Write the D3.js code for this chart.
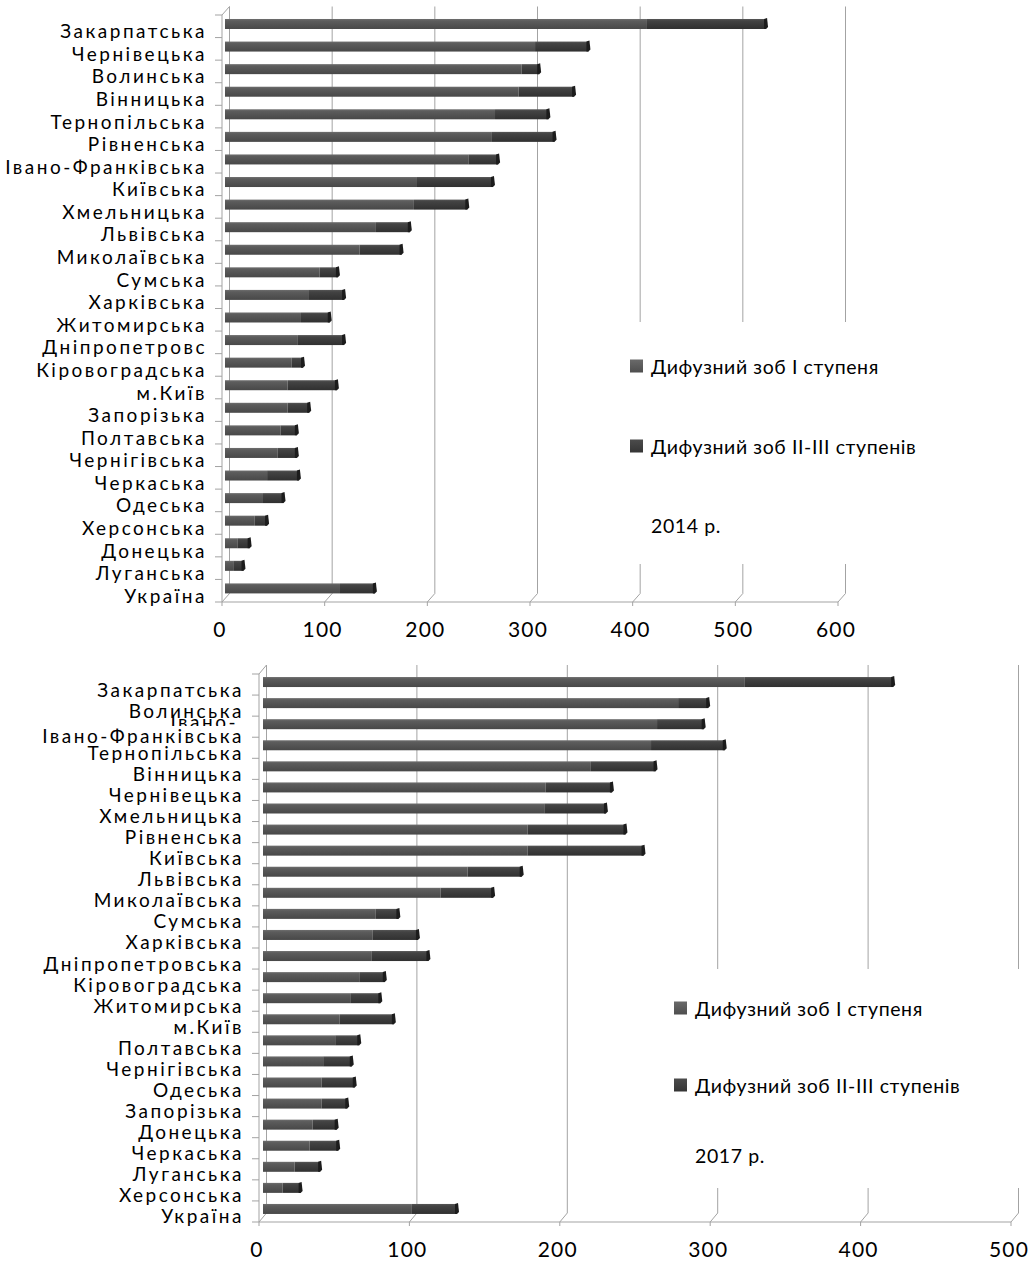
<!DOCTYPE html>
<html>
<head>
<meta charset="utf-8">
<script src="https://cdn.jsdelivr.net/npm/d3@7"></script>
<style>
  body { margin: 0; background: #fff; }
  text { font-family: Lato, "Open Sans", sans-serif; fill: #000; }
</style>
</head>
<body>
<svg id="chart" width="1035" height="1265"></svg>
<script>
// 2014 data
const regions2014 = ["Закарпатська", "Чернівецька", "Волинська", "Вінницька", "Тернопільська", "Рівненська",
  "Івано-Франківська", "Київська", "Хмельницька", "Львівська", "Миколаївська", "Сумська", "Харківська",
  "Житомирська", "Дніпропетровс", "Кіровоградська", "м.Київ", "Запорізька", "Полтавська", "Чернігівська",
  "Черкаська", "Одеська", "Херсонська", "Донецька", "Луганська", "Україна"];
const grade1_2014 = [411, 302, 289, 286, 263, 260, 237, 187, 184, 147, 131, 92, 81, 74, 71, 65, 61, 61, 54, 51, 41, 37, 29, 12, 8, 112];
const grade23_2014 = [116, 52, 17, 54, 52, 61, 29, 74, 52, 33, 41, 18, 35, 28, 45, 11, 48, 21, 16, 19, 31, 20, 12, 12, 10, 34];
const ticks2014 = [0, 100, 200, 300, 400, 500, 600];

// 2017 data
const regions2017 = ["Закарпатська", "Волинська", "Івано-Франківська", "Тернопільська", "Вінницька", "Чернівецька",
  "Хмельницька", "Рівненська", "Київська", "Львівська", "Миколаївська", "Сумська", "Харківська",
  "Дніпропетровська", "Кіровоградська", "Житомирська", "м.Київ", "Полтавська", "Чернігівська", "Одеська",
  "Запорізька", "Донецька", "Черкаська", "Луганська", "Херсонська", "Україна"];
const grade1_2017 = [320, 276, 262, 258, 218, 188, 187, 176, 176, 136, 118, 75, 73, 72, 64, 58, 51, 48, 40, 39, 39, 33, 31, 21, 13, 99];
const grade23_2017 = [99, 20, 31, 49, 43, 44, 41, 65, 77, 36, 35, 15, 30, 38, 17, 20, 36, 16, 19, 22, 17, 16, 19, 17, 12, 30];
const ticks2017 = [0, 100, 200, 300, 400, 500];

const seriesNames = ["Дифузний зоб I ступеня", "Дифузний зоб II-III ступенів"];

const svg = d3.select("#chart");

// gradients for the 3D-looking bars
const defs = svg.append("defs");
function addGradient(id, stops) {
  const lg = defs.append("linearGradient").attr("id", id)
    .attr("x1", 0).attr("y1", 0).attr("x2", 0).attr("y2", 1);
  stops.forEach(s => lg.append("stop").attr("offset", s[0]).attr("stop-color", s[1]));
}
addGradient("g1", [[0, "#6e6e6e"], [0.2, "#5c5c5c"], [1, "#484848"]]);
addGradient("g2", [[0, "#565656"], [0.2, "#434343"], [1, "#303030"]]);
addGradient("leg1", [[0, "#6a6a6a"], [1, "#4e4e4e"]]);
addGradient("leg2", [[0, "#4c4c4c"], [1, "#353535"]]);

const labelFont = { size: "19px", spacing: "2.5px" };

function drawChart(cfg) {
  const g = svg.append("g");
  const x = d3.scaleLinear().domain([0, cfg.max]).range([cfg.x0, cfg.x1]);
  const y = d3.scaleBand().domain(cfg.names).range([cfg.yTop, cfg.yBottom]);
  const dx = cfg.dx, dy = cfg.dy;
  const gridColor = "#a3a3a3";

  // back wall grid lines
  g.append("g").selectAll("line").data(cfg.ticks).join("line")
    .attr("x1", d => x(d) + dx).attr("x2", d => x(d) + dx)
    .attr("y1", cfg.yTop + dy).attr("y2", cfg.yBottom + dy)
    .attr("stroke", gridColor).attr("stroke-width", 1);

  // floor connectors and ticks under the axis
  g.append("g").selectAll("line").data(cfg.ticks).join("line")
    .attr("x1", d => x(d)).attr("y1", cfg.yBottom + 4)
    .attr("x2", d => x(d)).attr("y2", cfg.yBottom)
    .attr("stroke", gridColor);
  g.append("g").selectAll("path").data(cfg.ticks).join("path")
    .attr("d", d => `M${x(d)},${cfg.yBottom}L${x(d) + dx},${cfg.yBottom + dy}`)
    .attr("stroke", gridColor).attr("fill", "none");

  // wall top-left connector
  g.append("path")
    .attr("d", `M${x(0)},${cfg.yTop}L${x(0) + dx},${cfg.yTop + dy}`)
    .attr("stroke", gridColor).attr("fill", "none");

  // legend background hides the grid behind it
  g.append("rect")
    .attr("x", cfg.legend.boxX).attr("y", cfg.legend.boxY)
    .attr("width", cfg.legend.boxW).attr("height", cfg.legend.boxH)
    .attr("fill", "#fff");

  // axes
  g.append("line").attr("x1", x(0)).attr("x2", x(0))
    .attr("y1", cfg.yTop).attr("y2", cfg.yBottom).attr("stroke", gridColor);
  g.append("line").attr("x1", x(0)).attr("x2", x(cfg.max))
    .attr("y1", cfg.yBottom).attr("y2", cfg.yBottom).attr("stroke", gridColor);

  const bounds = cfg.names.map(n => y(n)).concat([cfg.yBottom]);
  g.append("g").selectAll("line").data(bounds).join("line")
    .attr("x1", x(0) - 7).attr("x2", x(0))
    .attr("y1", d => d).attr("y2", d => d)
    .attr("stroke", gridColor);

  // x tick labels
  g.append("g").selectAll("text").data(cfg.ticks).join("text")
    .attr("x", d => x(d) - 2).attr("y", cfg.yBottom + 35)
    .attr("text-anchor", "middle")
    .style("font-size", "21px").style("letter-spacing", "1.2px")
    .text(d => d);

  // bars
  const bx = v => x(v) + cfg.barDx;
  const rows = cfg.names.map((n, i) => ({ name: n, a: cfg.s1[i], b: cfg.s2[i] }));
  const bar = g.append("g").selectAll("g").data(rows).join("g")
    .attr("transform", d => `translate(0,${y(d.name) + y.bandwidth() / 2 + cfg.barDy - cfg.barH / 2})`);
  bar.append("rect")
    .attr("x", bx(0)).attr("width", d => bx(d.a) - bx(0))
    .attr("height", cfg.barH).attr("fill", "url(#g1)");
  bar.append("rect")
    .attr("x", d => bx(d.a)).attr("width", d => bx(d.a + d.b) - bx(d.a))
    .attr("height", cfg.barH).attr("fill", "url(#g2)");
  bar.append("path")
    .attr("d", d => {
      const e = bx(d.a + d.b);
      return `M${e - 2},0L${e + 1},-1L${e + 2},${cfg.barH - 2}L${e},${cfg.barH}L${e - 2},${cfg.barH}Z`;
    })
    .attr("fill", "#1c1c1c");

  // category labels
  g.append("g").selectAll("text").data(cfg.names).join("text")
    .attr("x", cfg.labelX)
    .attr("y", d => y(d) + y.bandwidth() / 2 + cfg.labelDy)
    .attr("text-anchor", "end").attr("dominant-baseline", "central")
    .style("font-size", labelFont.size).style("letter-spacing", labelFont.spacing)
    .text(d => cfg.labelOverride && cfg.labelOverride[d] !== undefined ? cfg.labelOverride[d] : d);

  // legend
  const L = cfg.legend;
  const leg = g.append("g");
  seriesNames.forEach((s, i) => {
    leg.append("rect").attr("x", L.x).attr("y", L.ys[i] - 6.5)
      .attr("width", 13).attr("height", 13).attr("fill", `url(#leg${i + 1})`);
    leg.append("text").attr("x", L.x + 21).attr("y", L.ys[i])
      .attr("dominant-baseline", "central")
      .style("font-size", "19.5px").style("letter-spacing", "0.6px")
      .text(s);
  });
  leg.append("text").attr("x", L.x + 21).attr("y", L.yearY)
    .attr("dominant-baseline", "central")
    .style("font-size", "19.5px").style("letter-spacing", "0.6px")
    .text(L.year);

  return { g, y };
}

drawChart({
  names: regions2014, s1: grade1_2014, s2: grade23_2014, ticks: ticks2014, max: 600,
  x0: 222, x1: 838, yTop: 15, yBottom: 602, dx: 7.5, dy: -8.5,
  barDx: 3, barDy: -2.3, barH: 10, labelX: 207, labelDy: 4.5,
  legend: { boxX: 612, boxY: 322, boxW: 420, boxH: 242, x: 630, ys: [366, 446], yearY: 525, year: "2014 р." }
});

const c2 = drawChart({
  names: regions2017, s1: grade1_2017, s2: grade23_2017, ticks: ticks2017, max: 500,
  x0: 259, x1: 1011, yTop: 674, yBottom: 1222, dx: 7.5, dy: -9,
  barDx: 4, barDy: -2.5, barH: 10, labelX: 244, labelDy: 4.5,
  labelOverride: { "Івано-Франківська": "" },
  legend: { boxX: 655, boxY: 969, boxW: 380, boxH: 219, x: 674, ys: [1008, 1085], yearY: 1155, year: "2017 р." }
});

// overlapping wrapped label in the 2017 chart (as in the source picture)
const ov = c2.g.append("g");
ov.append("text").attr("x", 238).attr("y", 721)
  .attr("text-anchor", "end").attr("dominant-baseline", "central")
  .style("font-size", labelFont.size).style("letter-spacing", labelFont.spacing).text("Івано-");
ov.append("rect").attr("x", 30).attr("y", 726).attr("width", 218).attr("height", 20).attr("fill", "#fff");
ov.append("text").attr("x", 244).attr("y", 735)
  .attr("text-anchor", "end").attr("dominant-baseline", "central")
  .style("font-size", labelFont.size).style("letter-spacing", labelFont.spacing).text("Івано-Франківська");
</script>
</body>
</html>
